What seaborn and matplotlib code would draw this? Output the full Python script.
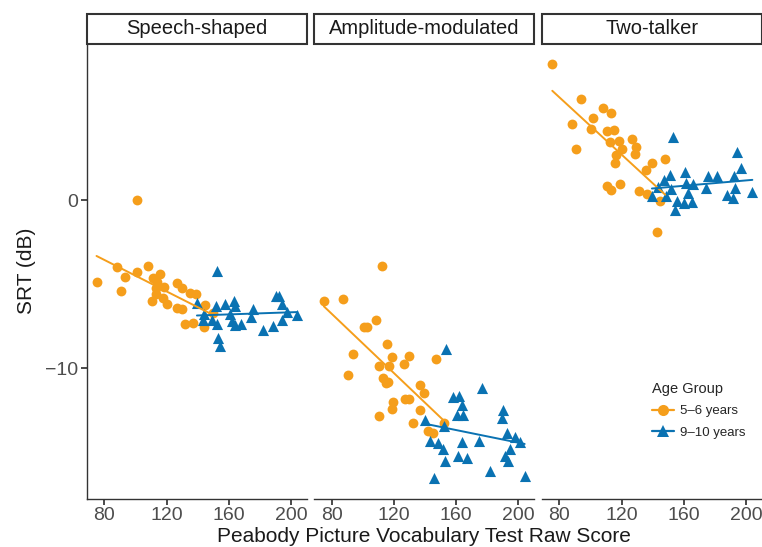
import numpy as np
import pandas as pd
import seaborn as sns
import matplotlib.pyplot as plt
from matplotlib.patches import Rectangle
from matplotlib.lines import Line2D

panels = ["Speech-shaped", "Amplitude-modulated", "Two-talker"]
groups = ["5\u20136 years", "9\u201310 years"]

ss_young_x = [101, 75, 88, 93.5, 91, 101, 108, 111, 115.5, 114, 113, 118.5, 113, 117.5,
              110.5, 120.5, 126.5, 130, 135, 139, 126.5, 130, 145, 150, 132, 137, 144]
ss_young_y = [0.0, -4.85, -3.95, -4.55, -5.4, -4.25, -3.9, -4.65, -4.4, -4.85, -5.25, -5.15,
              -5.6, -5.85, -6.0, -6.2, -4.9, -5.2, -5.5, -5.6, -6.4, -6.45, -6.25, -6.7,
              -7.35, -7.3, -7.55]
ss_old_x = [152.5, 139.5, 151.5, 157.5, 163.5, 164, 175.5, 190, 192.5, 194, 197.5, 204,
            144, 143.5, 149, 152.5, 161, 162, 164, 167.5, 174, 182, 188.5, 194, 153, 154.5]
ss_old_y = [-4.2, -6.1, -6.3, -6.2, -6.0, -6.3, -6.45, -5.7, -5.7, -6.2, -6.65, -6.85,
            -6.75, -7.15, -7.15, -7.35, -6.75, -7.2, -7.45, -7.35, -6.95, -7.7, -7.5,
            -7.15, -8.2, -8.7]

am_young_x = [112.5, 75, 87.5, 101, 102.5, 108.5, 94, 90.5, 115.5, 118.5, 129.5, 126.5,
              110.5, 117, 147, 113, 115, 116.5, 137, 139.5, 119.5, 119, 127, 129.5, 136.5,
              110.5, 132, 142, 145, 152]
am_young_y = [-3.9, -6.0, -5.9, -7.55, -7.55, -7.1, -9.15, -10.4, -8.55, -9.3, -9.25, -9.75,
              -9.85, -9.85, -9.45, -10.6, -10.9, -10.8, -11.0, -11.45, -12.0, -12.4, -11.8,
              -11.8, -12.45, -12.85, -13.25, -13.75, -13.85, -13.25]
am_old_x = [153.5, 176.5, 158, 162, 163.5, 160.5, 164.5, 190, 189.5, 140, 152, 192.5, 198,
            174.5, 163.5, 143, 148.5, 151.5, 194.5, 161.5, 167, 191.5, 193.5, 153, 182,
            145.5, 204, 201]
am_old_y = [-8.85, -11.15, -11.7, -11.65, -12.2, -12.8, -12.8, -12.5, -12.95, -13.05, -13.45,
            -13.85, -14.1, -14.3, -14.4, -14.3, -14.45, -14.8, -14.8, -15.2, -15.35, -15.2,
            -15.5, -15.5, -16.1, -16.5, -16.4, -14.35]

tt_young_x = [75.5, 94, 88, 91, 101.5, 100.5, 108, 113.5, 110.5, 115, 112.5, 118.5, 120,
              116.5, 116, 127, 129.5, 128.5, 148, 139.5, 136, 110.5, 113.5, 119, 131.5,
              136.5, 145, 142.5]
tt_young_y = [8.1, 6.0, 4.5, 3.05, 4.9, 4.2, 5.45, 5.15, 4.1, 4.15, 3.45, 3.5, 3.05, 2.65,
              2.2, 3.6, 3.15, 2.75, 2.45, 2.2, 1.8, 0.85, 0.6, 0.95, 0.55, 0.35, -0.05, -1.9]
tt_old_x = [153, 194, 196.5, 151, 160.5, 175.5, 181.5, 192, 147.5, 161.5, 166, 143.5, 152,
            174, 193, 204, 139.5, 148.5, 162.5, 155.5, 160, 165, 188, 191.5, 154]
tt_old_y = [3.75, 2.85, 1.9, 1.5, 1.65, 1.45, 1.45, 1.4, 1.2, 1.0, 0.95, 0.8, 0.65, 0.7,
            0.7, 0.45, 0.25, 0.25, 0.4, -0.05, -0.15, -0.1, 0.3, 0.15, -0.6]
# }}

series = {
    panels[0]: [(ss_young_x, ss_young_y), (ss_old_x, ss_old_y)],
    panels[1]: [(am_young_x, am_young_y), (am_old_x, am_old_y)],
    panels[2]: [(tt_young_x, tt_young_y), (tt_old_x, tt_old_y)],
}
rows = []
for p in panels:
    for g, (xs, ys) in zip(groups, series[p]):
        for x, y in zip(xs, ys):
            rows.append({"masker": p, "group": g, "ppvt": x, "srt": y})
df = pd.DataFrame(rows)

sns.set_theme(style="white")
plt.rcParams['font.family'] = ['Liberation Sans', 'DejaVu Sans']

colors = {groups[0]: "#F59E1B", groups[1]: "#0A72B2"}
markers = {groups[0]: "o", groups[1]: "^"}
sizes = {groups[0]: 50, groups[1]: 64}

W, H = 762, 547
fig = plt.figure(figsize=(W / 100, H / 100), dpi=100)
lefts = [86.7, 314.0, 541.7]
pw = 220.0
top, bottom = 44.0, 499.3
strip_h = 30.0 / (bottom - top)

for i, p in enumerate(panels):
    ax = fig.add_axes([lefts[i] / W, 1 - bottom / H, pw / W, (bottom - top) / H])
    sub = df[df["masker"] == p]
    for g in groups:
        d = sub[sub["group"] == g]
        sns.scatterplot(data=d, x="ppvt", y="srt", ax=ax, color=colors[g],
                        marker=markers[g], s=sizes[g], linewidth=0, legend=False,
                        zorder=2)
    for g in groups:
        d = sub[sub["group"] == g]
        sns.regplot(data=d, x="ppvt", y="srt", ax=ax, scatter=False, ci=None,
                    color=colors[g], line_kws={"linewidth": 1.4, "zorder": 3})
    ax.set_xlim(68.7, 210)
    ax.set_ylim(-17.78, 9.27)
    ax.set_xticks([80, 120, 160, 200])
    ax.set_yticks([-10, 0])
    ax.set_xlabel("")
    ax.set_ylabel("")
    for s in ["top", "right"]:
        ax.spines[s].set_visible(False)
    ax.spines["bottom"].set_color("#333333")
    ax.spines["bottom"].set_linewidth(1.0)
    if i == 0:
        ax.spines["left"].set_color("#333333")
        ax.spines["left"].set_linewidth(1.0)
        ax.tick_params(axis="y", left=True, length=4, color="#333333",
                       labelsize=14, labelcolor="#4D4D4D", pad=2)
        ax.set_yticklabels(["\u221210", "0"])
    else:
        ax.spines["left"].set_visible(False)
        ax.tick_params(axis="y", left=False, labelleft=False)
    ax.tick_params(axis="x", bottom=True, length=4, color="#333333",
                   labelsize=14, labelcolor="#4D4D4D", pad=1.5)
    # facet strip
    ax.add_patch(Rectangle((0, 1), 1, strip_h, transform=ax.transAxes,
                           facecolor="white", edgecolor="#333333", lw=1.5,
                           clip_on=False))
    ax.text(0.5, 1 + strip_h / 2, p, transform=ax.transAxes, ha="center",
            va="center", fontsize=14.5, color="#1A1A1A")

fig.text(424 / W, 1 - 537 / H, "Peabody Picture Vocabulary Test Raw Score",
         ha="center", va="center", fontsize=15, color="#1A1A1A")
fig.text(27 / W, 1 - 271 / H, "SRT (dB)", ha="center", va="center",
         rotation=90, fontsize=15, color="#1A1A1A")

handles = [Line2D([0], [0], color=colors[g], marker=markers[g], markersize=8,
                  markeredgewidth=0, linewidth=1.6) for g in groups]
fig.legend(handles, groups, title="Age Group", loc="upper left",
           bbox_to_anchor=(640 / W, 1 - 370 / H), frameon=False,
           fontsize=9.5, title_fontsize=10.5, handlelength=1.7,
           handletextpad=0.4, labelspacing=0.7, alignment="left")

plt.savefig("out.png", dpi=100)
